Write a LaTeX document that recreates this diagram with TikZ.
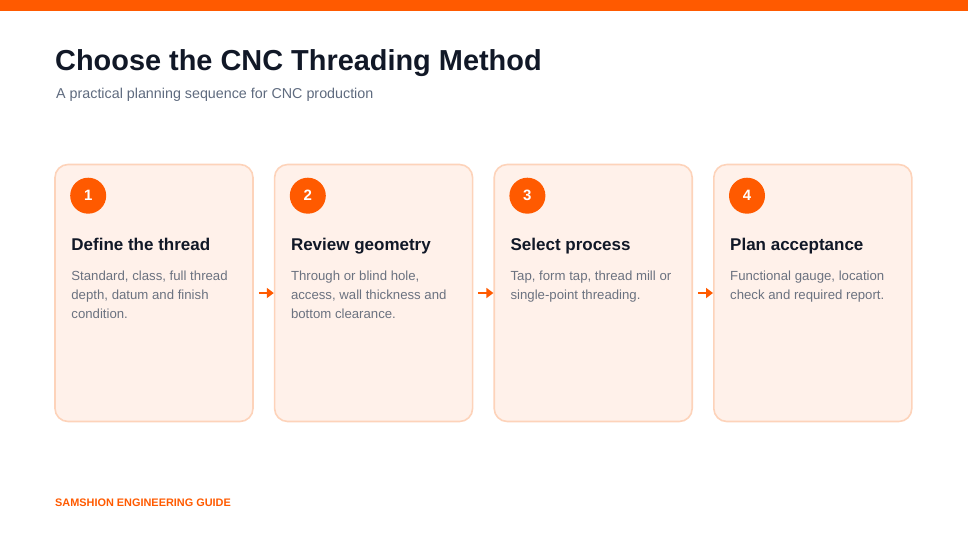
\documentclass[tikz,border=0pt]{standalone}
\usepackage{fontspec}
\setmainfont{Liberation Sans}
\usetikzlibrary{arrows.meta}

\definecolor{brand}{HTML}{FF5A00}
\definecolor{cardfill}{HTML}{FFF1EA}
\definecolor{cardline}{HTML}{FDD3BA}
\definecolor{ink}{HTML}{111827}
\definecolor{subink}{HTML}{5E6A7E}
\definecolor{bodyink}{HTML}{6B7280}

\begin{document}
\begin{tikzpicture}[x=1pt,y=-1pt,
    card/.style={draw=cardline, line width=1.6pt, fill=cardfill, rounded corners=13pt,
      minimum width=198pt, minimum height=257pt, inner sep=0pt},
    badge/.style={circle, fill=brand, minimum size=36pt, inner sep=0pt, text=white,
      font=\bfseries\fontsize{15}{18}\selectfont},
    headtext/.style={anchor=base west, inner sep=0pt, text=ink,
      font=\bfseries\fontsize{17}{20}\selectfont},
    bodytext/.style={anchor=north west, inner sep=0pt, align=left, text=bodyink,
      font=\fontsize{13.2}{18.6}\selectfont},
    flow/.style={draw=brand, line width=2.8pt, -{Triangle[length=7pt,width=10pt]}}
  ]
    \useasboundingbox (0,0) rectangle (968,544);
    \fill[brand] (0,0) rectangle (968,11);% Top bar

    \node[anchor=base west, inner sep=0pt, text=ink, font=\bfseries\fontsize{28.9}{34}\selectfont]
      (title) at (55,70) {Choose the CNC Threading Method};
    \node[anchor=base west, inner sep=0pt, text=subink, font=\fontsize{14.3}{17}\selectfont]
      (subtitle) at (56,98) {A practical planning sequence for CNC production};

    \foreach \i/\head/\body in {%
      1/Define the thread/{Standard, class, full thread\\depth, datum and finish\\condition.},
      2/Review geometry/{Through or blind hole,\\access, wall thickness and\\bottom clearance.},
      3/Select process/{Tap, form tap, thread mill or\\single-point threading.},
      4/Plan acceptance/{Functional gauge, location\\check and required report.}}{%
      \pgfmathsetmacro{\cx}{154+219.6*(\i-1)}
      \node[card] (card\i) at (\cx,293) {};
      \node[badge] (num\i) at ([shift={(34,32)}]card\i.north west) {\i};
      \node[headtext] (head\i) at ([shift={(17,87)}]card\i.north west) {\head};
      \node[bodytext] (body\i) at ([shift={(17,107.5)}]card\i.north west) {\body};
    }

    % arrows between the steps
    \foreach \i/\j in {1/2,2/3,3/4}{
      \draw[flow] ([xshift=5pt]card\i.east) -- (card\j.west);
    }

    \node[anchor=base west, inner sep=0pt, text=brand, font=\bfseries\fontsize{10.9}{13}\selectfont]
      (footer) at (55,506) {SAMSHION ENGINEERING GUIDE};
\end{tikzpicture}
\end{document}
